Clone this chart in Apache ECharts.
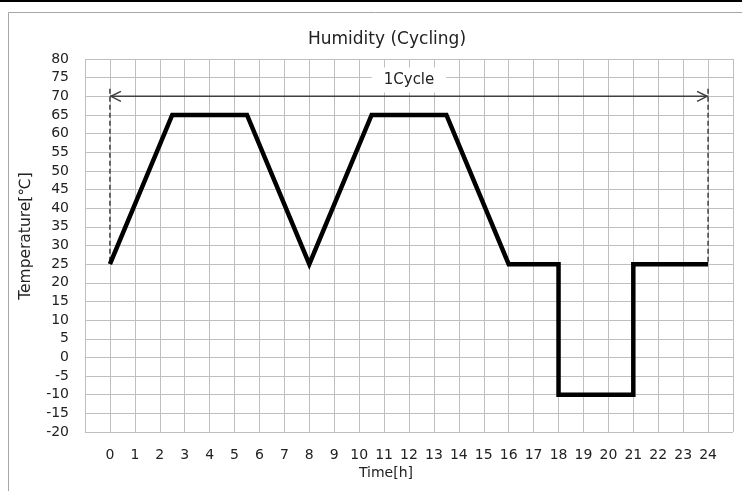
<!DOCTYPE html>
<html>
<head>
<meta charset="utf-8">
<script src="https://cdn.jsdelivr.net/npm/echarts@6/dist/echarts.min.js"></script>
<style>
html,body{margin:0;padding:0;background:#fff;}
#chart{width:742px;height:491px;}
</style>
</head>
<body>
<div id="chart"></div>
<script>
// ---- data ----
var timeHours = [0, 2.5, 5.5, 8, 10.5, 13.5, 16, 18, 18, 21, 21, 24];
var temperatures = [25, 65, 65, 25, 65, 65, 25, 25, -10, -10, 25, 25];
var xTickLabels = ['0','1','2','3','4','5','6','7','8','9','10','11','12','13','14','15','16','17','18','19','20','21','22','23','24'];
var yTickLabels = ['-20','-15','-10','-5','0','5','10','15','20','25','30','35','40','45','50','55','60','65','70','75','80'];
var cycleStart = 0, cycleEnd = 24, cycleArrowY = 70, cycleDashTop = 72, cycleDashBottom = 25;
var cycleLabel = '1Cycle', cycleLabelX = 12, cycleLabelY = 74.4;

var FONT = '"DejaVu Sans", Verdana, sans-serif';
var lineData = timeHours.map(function (t, i) { return [t, temperatures[i]]; });

var chart = echarts.init(document.getElementById('chart'), null, {renderer: 'canvas'});
var gray = '#404040';

chart.setOption({
  animation: false,
  backgroundColor: '#fff',
  title: {
    text: 'Humidity (Cycling)',
    left: 382, top: 26, textAlign: 'center',
    textStyle: {fontFamily: FONT, fontSize: 17, fontWeight: 'normal', color: '#222'}
  },
  grid: {left: 85, right: 9, top: 59, bottom: 59},
  xAxis: {
    type: 'value', min: -1, max: 25, interval: 1,
    axisLine: {show: true, lineStyle: {color: '#bfbfbf', width: 1}},
    axisTick: {show: false},
    splitLine: {show: true, lineStyle: {color: '#bfbfbf', width: 1}},
    axisLabel: {
      margin: 16, fontFamily: FONT, fontSize: 14, color: '#222',
      formatter: function (v) { var i = Math.round(v); return (i >= 0 && i < xTickLabels.length) ? xTickLabels[i] : ''; }
    }
  },
  yAxis: {
    type: 'value', min: -20, max: 80, interval: 5,
    axisLine: {show: false},
    axisTick: {show: false},
    splitLine: {show: true, lineStyle: {color: '#bfbfbf', width: 1}},
    axisLabel: {
      margin: 16, fontFamily: FONT, fontSize: 14, color: '#222',
      formatter: function (v) { var i = Math.round((v + 20) / 5); return yTickLabels[i] || ''; }
    }
  },
  graphic: [
    {type: 'rect', shape: {x: 0, y: 0, width: 742, height: 2}, style: {fill: '#000'}, z: 100},
    {type: 'rect', shape: {x: 8.5, y: 12.5, width: 760, height: 520}, style: {fill: null, stroke: '#a6a6a6', lineWidth: 1}, z: 100},
    {type: 'text', x: 386, y: 473, style: {text: 'Time[h]', font: '14px ' + FONT, fill: '#222', align: 'center', verticalAlign: 'middle'}},
    {type: 'text', x: 26, y: 236, rotation: Math.PI / 2, style: {text: 'Temperature[℃]', font: '15.5px ' + FONT, fill: '#222', align: 'center', verticalAlign: 'middle'}}
  ],
  series: [
    {
      type: 'line', data: lineData, showSymbol: false, symbol: 'none',
      lineStyle: {color: '#000', width: 4.5, join: 'miter'}, z: 5
    },
    {
      type: 'custom', z: 4,
      data: [[cycleStart, cycleEnd, cycleArrowY, cycleDashTop, cycleDashBottom, cycleLabelX, cycleLabelY]],
      renderItem: function (params, api) {
        var a = api.coord([api.value(0), api.value(2)]);
        var b = api.coord([api.value(1), api.value(2)]);
        var d1t = api.coord([api.value(0), api.value(3)]);
        var d1b = api.coord([api.value(0), api.value(4)]);
        var d2t = api.coord([api.value(1), api.value(3)]);
        var d2b = api.coord([api.value(1), api.value(4)]);
        var lp = api.coord([api.value(5), api.value(6)]);
        var dashStyle = {stroke: gray, lineWidth: 1.5, lineDash: [5, 3], fill: null};
        var lineStyle = {stroke: gray, lineWidth: 1.5, fill: null};
        return {
          type: 'group',
          children: [
            {type: 'line', shape: {x1: d1t[0], y1: d1t[1], x2: d1b[0], y2: d1b[1]}, style: dashStyle},
            {type: 'line', shape: {x1: d2t[0], y1: d2t[1], x2: d2b[0], y2: d2b[1]}, style: dashStyle},
            {type: 'line', shape: {x1: a[0], y1: a[1], x2: b[0], y2: b[1]}, style: lineStyle},
            {type: 'polyline', shape: {points: [[a[0] + 11, a[1] - 5], [a[0] + 1, a[1]], [a[0] + 11, a[1] + 5]]}, style: lineStyle},
            {type: 'polyline', shape: {points: [[b[0] - 11, b[1] - 5], [b[0] - 1, b[1]], [b[0] - 11, b[1] + 5]]}, style: lineStyle},
            {type: 'text', x: lp[0], y: lp[1], style: {
              text: cycleLabel, font: '15px ' + FONT, fill: '#222',
              align: 'center', verticalAlign: 'middle',
              backgroundColor: '#fff', padding: [5, 12]
            }}
          ]
        };
      }
    }
  ]
});
</script>
</body>
</html>
